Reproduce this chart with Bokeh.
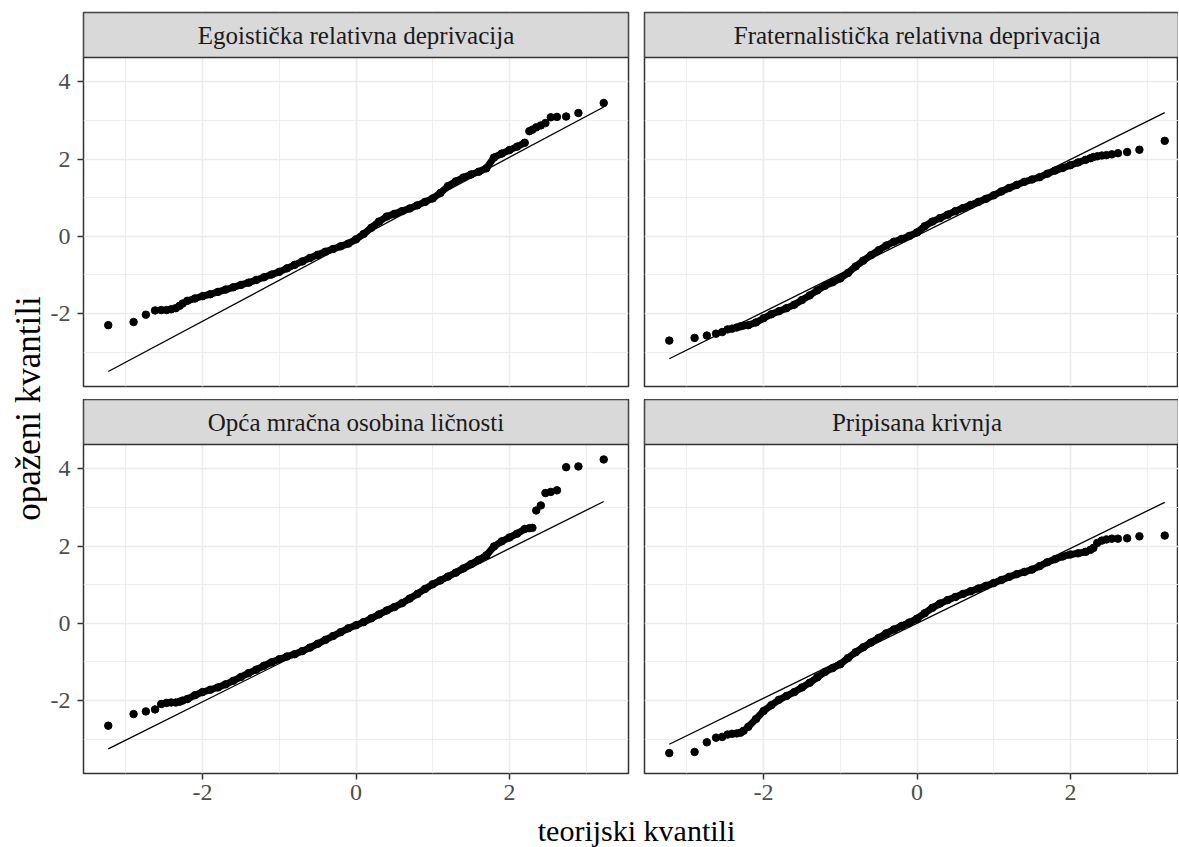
import numpy as np
from bokeh.plotting import figure
from bokeh.models import FixedTicker, BoxAnnotation, Label, Range1d, PrintfTickFormatter
from bokeh.layouts import row, column
from bokeh.embed import file_html
from bokeh.resources import INLINE

FONT = "Liberation Serif"

naslovi = ["Egoistička relativna deprivacija",
           "Fraternalistička relativna deprivacija",
           "Opća mračna osobina ličnosti",
           "Pripisana krivnja"]

# theoretical quantiles (shared by all panels)
teorijski_donji = [-3.23, -2.90, -2.74, -2.62, -2.54, -2.47, -2.41, -2.35, -2.30, -2.26]
teorijski_sredina = [-2.2, -2.1, -2.0, -1.9, -1.8, -1.7, -1.6, -1.5, -1.4, -1.3,
                     -1.2, -1.1, -1.0, -0.9, -0.8, -0.7, -0.6, -0.5, -0.4, -0.3,
                     -0.2, -0.1, 0.0, 0.1, 0.2, 0.3, 0.4, 0.5, 0.6, 0.7,
                     0.8, 0.9, 1.0, 1.1, 1.2, 1.3, 1.4, 1.5, 1.6, 1.7,
                     1.8, 1.9, 2.0, 2.1, 2.2]
teorijski_gornji = [2.26, 2.30, 2.35, 2.41, 2.47, 2.54, 2.62, 2.74, 2.90, 3.23]

# observed quantiles
ego_donji = [-2.30, -2.22, -2.03, -1.92, -1.91, -1.91, -1.89, -1.86, -1.80, -1.74]
ego_sredina = [-1.67, -1.61, -1.55, -1.50, -1.44, -1.38, -1.32, -1.26, -1.20, -1.13,
               -1.06, -0.99, -0.92, -0.83, -0.74, -0.65, -0.56, -0.48, -0.40, -0.33,
               -0.26, -0.19, -0.08, 0.06, 0.22, 0.38, 0.51, 0.58, 0.65, 0.72,
               0.80, 0.89, 0.98, 1.12, 1.30, 1.42, 1.52, 1.60, 1.67, 1.76,
               2.04, 2.14, 2.23, 2.32, 2.42]
ego_gornji = [2.72, 2.76, 2.82, 2.87, 2.93, 3.08, 3.09, 3.10, 3.19, 3.45]

frat_donji = [-2.70, -2.63, -2.57, -2.52, -2.48, -2.41, -2.39, -2.36, -2.33, -2.31]
frat_sredina = [-2.30, -2.23, -2.12, -2.02, -1.94, -1.86, -1.77, -1.65, -1.53, -1.40,
                -1.28, -1.19, -1.09, -0.95, -0.78, -0.63, -0.49, -0.36, -0.24, -0.14,
                -0.07, 0.01, 0.10, 0.26, 0.38, 0.47, 0.56, 0.65, 0.73, 0.81,
                0.89, 0.97, 1.06, 1.16, 1.25, 1.33, 1.41, 1.47, 1.53, 1.62,
                1.70, 1.77, 1.84, 1.91, 1.98]
frat_gornji = [2.02, 2.05, 2.07, 2.09, 2.10, 2.12, 2.15, 2.18, 2.24, 2.47]

opca_donji = [-2.65, -2.35, -2.28, -2.23, -2.09, -2.06, -2.05, -2.05, -2.03, -2.00]
opca_sredina = [-1.96, -1.86, -1.78, -1.72, -1.66, -1.58, -1.49, -1.39, -1.29, -1.20,
                -1.10, -1.01, -0.93, -0.86, -0.80, -0.72, -0.63, -0.53, -0.43, -0.33,
                -0.23, -0.13, -0.05, 0.03, 0.13, 0.23, 0.33, 0.42, 0.52, 0.64,
                0.76, 0.89, 1.01, 1.11, 1.21, 1.31, 1.42, 1.53, 1.64, 1.76,
                1.99, 2.12, 2.22, 2.32, 2.44]
opca_gornji = [2.46, 2.47, 2.92, 3.05, 3.37, 3.40, 3.44, 4.04, 4.06, 4.24]

prip_donji = [-3.36, -3.33, -3.08, -2.96, -2.94, -2.88, -2.86, -2.85, -2.83, -2.78]
prip_sredina = [-2.68, -2.48, -2.27, -2.12, -1.98, -1.88, -1.78, -1.66, -1.54, -1.40,
                -1.26, -1.16, -1.06, -0.90, -0.75, -0.62, -0.50, -0.38, -0.26, -0.16,
                -0.07, 0.02, 0.12, 0.26, 0.40, 0.51, 0.60, 0.68, 0.76, 0.83,
                0.90, 0.97, 1.04, 1.12, 1.20, 1.27, 1.33, 1.39, 1.48, 1.58,
                1.66, 1.73, 1.78, 1.81, 1.85]
prip_gornji = [1.90, 1.95, 2.08, 2.14, 2.17, 2.19, 2.19, 2.20, 2.25, 2.27]

# reference (qq) lines
nagib = [1.060, 0.986, 0.991, 0.969]
odsjecak = [-0.077, 0.015, -0.050, 0.000]

x_ticks = [-2, 0, 2]
x_minor = [-3, -1, 1, 3]
y_ticks = [-2, 0, 2, 4]
y_minor = [-3, -1, 1, 3]

paneli = [
    (naslovi[0], ego_donji, ego_sredina, ego_gornji, nagib[0], odsjecak[0]),
    (naslovi[1], frat_donji, frat_sredina, frat_gornji, nagib[1], odsjecak[1]),
    (naslovi[2], opca_donji, opca_sredina, opca_gornji, nagib[2], odsjecak[2]),
    (naslovi[3], prip_donji, prip_sredina, prip_gornji, nagib[3], odsjecak[3]),
]

teor_all = teorijski_donji + teorijski_sredina + teorijski_gornji
x_min, x_max = min(teor_all), max(teor_all)
all_y = []
for (_, d, s, g, b, a) in paneli:
    all_y += d + s + g + [a + b * x_min, a + b * x_max]
y_min, y_max = min(all_y), max(all_y)
ex = 0.05 * (x_max - x_min)
ey = 0.05 * (y_max - y_min)
X0, X1 = x_min - ex, x_max + ex
Y0, Y1 = y_min - ey, y_max + ey

PANEL_H = 329
STRIP_H = 45
LEFT_W = 545
RIGHT_W = 534
BOTTOM_BORDER = 40
strip_units = (Y1 - Y0) * STRIP_H / PANEL_H
Ytop = Y1 + strip_units
X1_right = X0 + (X1 - X0) * RIGHT_W / LEFT_W

TICK_FS = "24px"
STRIP_FS = "25px"
XTITLE_FS = "30px"
YTITLE_FS = "35px"


def style_axis(ax, ticks, minor, standoff):
    ax.ticker = FixedTicker(ticks=ticks, minor_ticks=minor)
    ax.formatter = PrintfTickFormatter(format="%d")
    ax.axis_line_color = None
    ax.major_tick_line_color = "#333333"
    ax.major_tick_line_width = 1.5
    ax.major_tick_out = 6
    ax.major_tick_in = 0
    ax.minor_tick_line_color = None
    ax.major_label_text_font = FONT
    ax.major_label_text_font_size = TICK_FS
    ax.major_label_text_color = "#4D4D4D"
    ax.major_label_standoff = standoff


def make_panel(idx):
    title, d, s, g, b, a = paneli[idx]
    right = idx % 2 == 1
    bottom = idx >= 2
    xr = X1_right if right else X1
    p = figure(frame_width=RIGHT_W if right else LEFT_W,
               frame_height=PANEL_H + STRIP_H,
               x_range=Range1d(X0, xr), y_range=Range1d(Y0, Ytop),
               output_backend="svg", toolbar_location=None,
               x_axis_location="below" if bottom else None,
               y_axis_location=None if right else "left",
               min_border_left=8 if right else 33,
               min_border_right=0 if right else 8,
               min_border_top=0 if bottom else 12,
               min_border_bottom=BOTTOM_BORDER if bottom else 13,
               background_fill_color="white", border_fill_color="white")
    p.outline_line_color = "#333333"
    p.outline_line_width = 1.5
    p.xgrid.ticker = FixedTicker(ticks=x_ticks, minor_ticks=x_minor)
    p.ygrid.ticker = FixedTicker(ticks=y_ticks, minor_ticks=y_minor)
    for gr in (p.xgrid[0], p.ygrid[0]):
        gr.grid_line_color = "#EBEBEB"
        gr.grid_line_width = 1.6
        gr.minor_grid_line_color = "#EBEBEB"
        gr.minor_grid_line_width = 0.9
    if bottom:
        style_axis(p.xaxis[0], x_ticks, x_minor, 5)
    if not right:
        style_axis(p.yaxis[0], y_ticks, y_minor, 7)

    # dense band of points
    p.line(teorijski_sredina, s, line_color="black", line_width=7,
           line_join="round", line_cap="round")
    p.scatter(teor_all, d + s + g, size=7.5, color="black")
    # qq line
    p.line([x_min, x_max], [a + b * x_min, a + b * x_max],
           line_color="black", line_width=1.3)

    # facet strip
    p.add_layout(BoxAnnotation(left=X0, right=xr, bottom=Y1, top=Ytop,
                               fill_color="#D9D9D9", fill_alpha=1.0,
                               line_color="#333333", line_width=1.5, line_alpha=1.0))
    p.add_layout(Label(x=0, y=Y1 + strip_units / 2, text=title,
                       text_align="center", text_baseline="middle",
                       text_font=FONT, text_font_size=STRIP_FS,
                       text_color="#1A1A1A"))
    return p


panels = [make_panel(i) for i in range(4)]
grid = column(row(panels[0], panels[1]), row(panels[2], panels[3]))

GRID_H = 12 + 374 + 13 + 374 + BOTTOM_BORDER
YL_W = 47
ylab = figure(width=YL_W, height=GRID_H, x_range=Range1d(0, YL_W), y_range=Range1d(0, GRID_H),
              x_axis_location=None, y_axis_location=None, min_border=0,
              outline_line_color=None, toolbar_location=None, output_backend="svg")
ylab.grid.visible = False
ylab.add_layout(Label(x=28, y=GRID_H - 408, text="opaženi kvantili", angle=np.pi / 2,
                      text_align="center", text_baseline="middle",
                      text_font=FONT, text_font_size=YTITLE_FS, text_color="black"))

XL_W, XL_H = 1178, 847 - GRID_H
xlab = figure(width=XL_W, height=XL_H, x_range=Range1d(0, XL_W), y_range=Range1d(0, XL_H),
              x_axis_location=None, y_axis_location=None, min_border=0,
              outline_line_color=None, toolbar_location=None, output_backend="svg")
xlab.grid.visible = False
xlab.add_layout(Label(x=636, y=XL_H / 2, text="teorijski kvantili",
                      text_align="center", text_baseline="middle",
                      text_font=FONT, text_font_size=XTITLE_FS, text_color="black"))

layout = column(row(ylab, grid), xlab)

open("out.html", "w").write(file_html(layout, INLINE))
